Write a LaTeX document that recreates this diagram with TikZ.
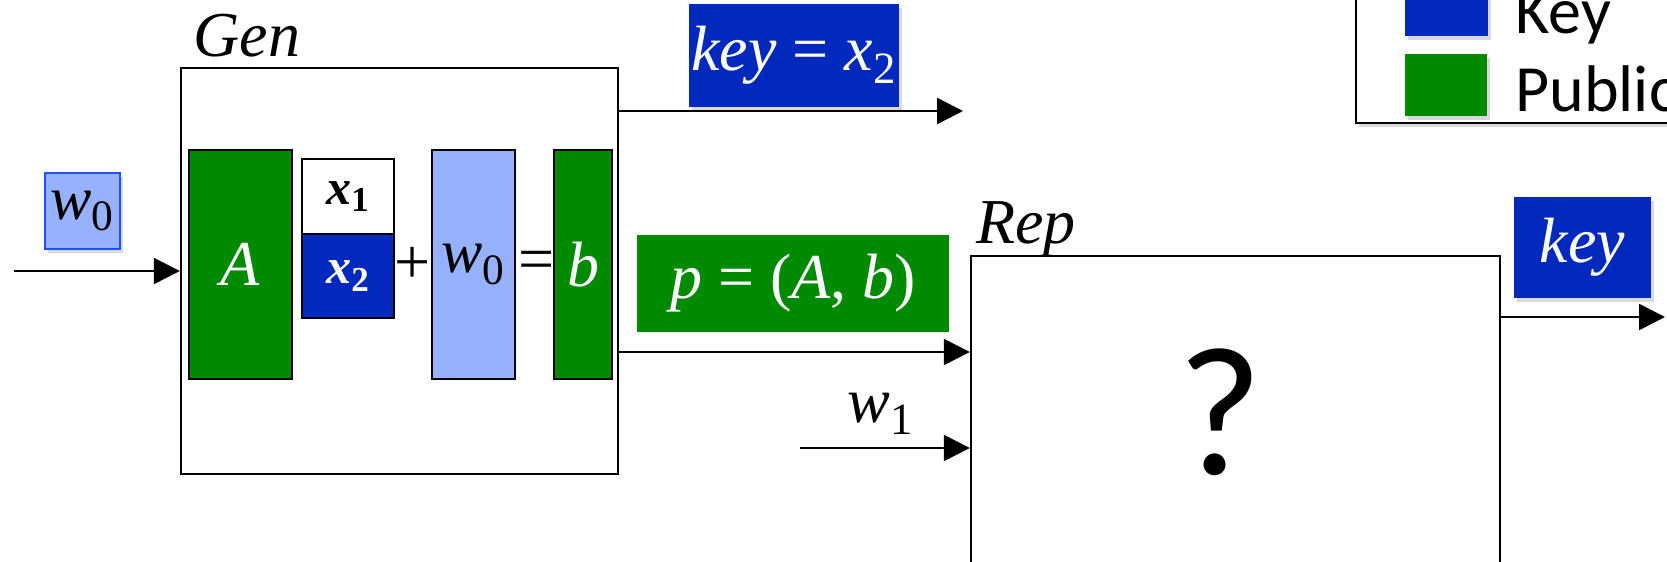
\documentclass[tikz,border=0pt]{standalone}
\usepackage{fontspec}
\setmainfont{Liberation Serif}
\newfontfamily\legendfont{Carlito}
\usetikzlibrary{arrows.meta,shadows}
\definecolor{pubgreen}{RGB}{0,138,0}
\definecolor{keyblue}{RGB}{2,41,190}
\definecolor{noiseblue}{RGB}{150,178,255}
\definecolor{edgeblue}{RGB}{30,80,255}
\begin{document}
\begin{tikzpicture}[x=0.5pt, y=-0.5pt, >={Triangle[length=13pt,width=13pt]},
  every node/.style={font=\fontsize{32}{36}\selectfont, inner sep=0pt},
  boxline/.style={draw, line width=1.2pt},
  bar/.style={draw, line width=1.4pt},
  softshadow/.style={drop shadow={shadow xshift=1.5pt, shadow yshift=-2pt, opacity=0.3}},
  tag/.style={text=white, softshadow},
  arr/.style={->, line width=1.2pt}]
  \useasboundingbox (0,0) rectangle (1667,562);
  \clip (0,0) rectangle (1667,562);

  % 1. Gen und Rep
  \node[boxline, minimum width=218.5pt, minimum height=203pt] (gen) at (399.5,271) {};
  \node[anchor=base] (gen-lbl) at (247,56) {\textit{Gen}};
  \node[boxline, minimum width=264.5pt, minimum height=182pt] (rep) at (1235.5,438) {};
  \node[anchor=base] (rep-lbl) at (1026,243) {\textit{Rep}};
  \node[font={\legendfont\fontsize{92}{96}\selectfont}] (ask) at (1220,412) {?};

  % 2. Matrix, Vektoren
  \node[bar, fill=pubgreen, text=white, minimum width=51.5pt, minimum height=114.5pt] (A) at (240.5,264.5) {\textit{A}};
  \node[bar, fill=white, minimum width=46pt, minimum height=37.5pt, font=\fontsize{25}{28}\selectfont] (x1) at (348,196.5) {\textbf{\textit{x}}\textsubscript{\textbf{1}}};
  \node[bar, fill=keyblue, text=white, minimum width=46pt, minimum height=42pt, font=\fontsize{25}{28}\selectfont] (x2) at (348,276) {\textbf{\textit{x}}\textsubscript{\textbf{2}}};
  \node (plus) at (413,265) {+};
  \node[bar, fill=noiseblue, minimum width=41.5pt, minimum height=114.5pt, font=\fontsize{31}{34}\selectfont] (w0) at (473.5,264.5) {\textit{w}\textsubscript{0}};
  \node (eq) at (537,266) {=};
  \node[bar, fill=pubgreen, text=white, minimum width=29pt, minimum height=114.5pt] (b) at (583,264.5) {\textit{b}};

  % 3. Eingaben und Ausgaben
  \node[draw=edgeblue, line width=1pt, fill=noiseblue, softshadow, minimum width=37.5pt, minimum height=38pt, font=\fontsize{31}{34}\selectfont] (w0-in) at (82.5,211) {\textit{w}\textsubscript{0}};
  \node[tag, fill=keyblue, minimum width=105pt, minimum height=51.5pt] (key-x2) at (794,55.5) {\textit{key} = \textit{x}\textsubscript{2}};
  \node[fill=pubgreen, text=white, minimum width=156pt, minimum height=48.5pt] (pub) at (793,283.5) {\textit{p} = (\textit{A}, \textit{b})};
  \node[tag, fill=keyblue, minimum width=68.5pt, minimum height=50.5pt] (key) at (1582.5,247.5) {\textit{key}};
  \node[anchor=base] (w1-lbl) at (881,422) {\textit{w}\textsubscript{1}};

  \coordinate (in-start) at (14,271);
  \coordinate (key-end) at (963,111);
  \coordinate (p-end) at (rep.west |- 0,352);
  \coordinate (w1-start) at (800,448);
  \coordinate (out-end) at (1665,317);
  \draw[arr] (in-start) -- (gen.west);
  \draw[arr] (gen.east |- key-end) -- (key-end);
  \draw[arr] (gen.east |- p-end) -- (p-end);
  \draw[arr] (w1-start) -- (rep.west |- w1-start);
  \draw[arr] (rep.east |- out-end) -- (out-end);

  % 4. Legende
  \node[boxline, fill=white, softshadow, minimum width=182pt, minimum height=81.5pt] (legend) at (1538,41.5) {};
  \node[fill=keyblue, softshadow, minimum width=41.5pt, minimum height=31pt] (sw-key) at (1446,5) {};
  \node[fill=pubgreen, softshadow, minimum width=41pt, minimum height=31pt] (sw-pub) at (1446,85) {};
  \node[anchor=base west, font={\legendfont\fontsize{33}{36}\selectfont}] (key-txt) at (1515,33) {Key};
  \node[anchor=base west, font={\legendfont\fontsize{33}{36}\selectfont}] (pub-txt) at (1515,112) {Public};
\end{tikzpicture}
\end{document}
